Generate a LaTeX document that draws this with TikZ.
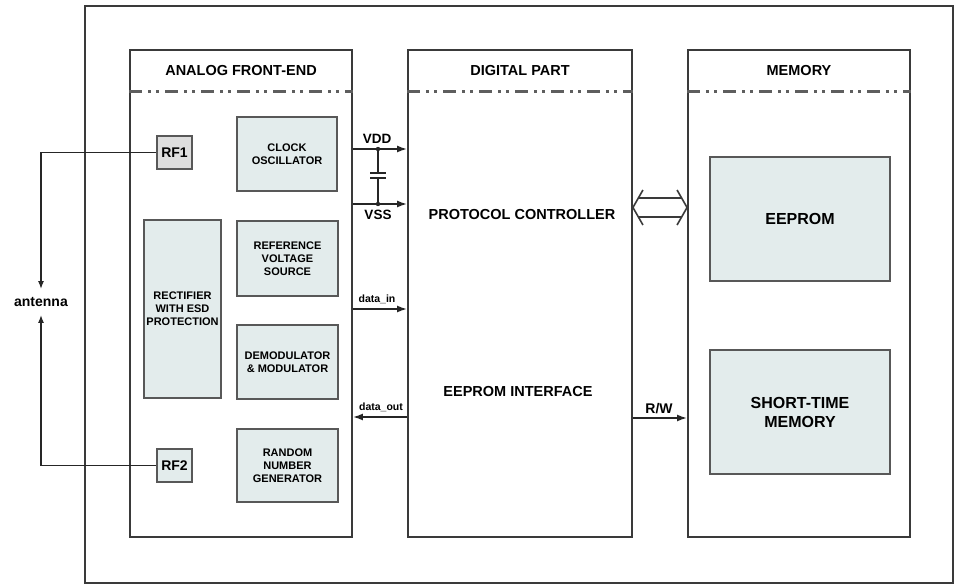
\documentclass[tikz,border=0pt]{standalone}
\usepackage{fontspec}
\setmainfont{Liberation Sans}
\usetikzlibrary{arrows.meta,calc}

\definecolor{boxfill}{HTML}{E3ECEC}
\definecolor{rffill}{HTML}{DEDEDE}
\definecolor{edge}{HTML}{3A3A3A}
\definecolor{dashgray}{HTML}{5E5E5E}

\begin{document}
\begin{tikzpicture}[x=1pt,y=-1pt,
  every node/.style={font=\bfseries},
  frame/.style={draw=edge, line width=1.9pt, inner sep=0pt},
  block/.style={draw=edge!85, line width=1.7pt, fill=boxfill, align=center,
    inner sep=0pt, font=\fontsize{11}{13}\selectfont\bfseries},
  rfbox/.style={block, font=\fontsize{14}{16}\selectfont\bfseries},
  bigblock/.style={block, font=\fontsize{16}{19}\selectfont\bfseries},
  title/.style={font=\fontsize{14.5}{16}\selectfont\bfseries},
  plain/.style={font=\fontsize{14.5}{16}\selectfont\bfseries},
  small/.style={font=\fontsize{10.5}{12}\selectfont\bfseries, inner sep=0pt},
  sepline/.style={dashgray, line width=3pt,
    dash pattern=on 13pt off 6pt on 3pt off 5pt on 3pt off 6pt},
  wire/.style={draw=black!85, line width=1.6pt},
  sig/.style={wire, -{Latex[length=10pt,width=7pt]}},
  antsig/.style={wire, -{Latex[length=8pt,width=6pt]}},
]
\useasboundingbox (0,0) rectangle (967,585);

% outer frame and the three main sections
\node[frame, minimum width=868pt, minimum height=577pt] (chip) at (519,294.5) {};
\node[frame, minimum width=222pt, minimum height=487pt] (afe) at (241,293.5) {};
\node[frame, minimum width=224pt, minimum height=487pt] (dig) at (520,293.5) {};
\node[frame, minimum width=222pt, minimum height=487pt] (mem) at (799,293.5) {};

% section titles and separators
\node[title] (afetitle) at (241,71) {ANALOG FRONT-END};
\node[title] (digtitle) at (520,71) {DIGITAL PART};
\node[title] (memtitle) at (799,71) {MEMORY};
\draw[sepline] (afe.west |- 0,92) -- (afe.east |- 0,92);
\draw[sepline] (dig.west |- 0,92) -- (dig.east |- 0,92);
\draw[sepline] (mem.west |- 0,92) -- (mem.east |- 0,92);

% analog front-end blocks
\node[rfbox, fill=rffill, minimum width=35pt, minimum height=33pt] (rf1) at (174.5,152.5) {RF1};
\node[rfbox, minimum width=35pt, minimum height=33pt] (rf2) at (174.5,465.5) {RF2};
\node[block, minimum width=100pt, minimum height=74pt] (clk) at (287,154) {CLOCK\\OSCILLATOR};
\node[block, minimum width=101pt, minimum height=75pt] (ref) at (287.5,258.5) {REFERENCE\\VOLTAGE\\SOURCE};
\node[block, minimum width=101pt, minimum height=74pt] (demod) at (287.5,362) {DEMODULATOR\\\& MODULATOR};
\node[block, minimum width=101pt, minimum height=73pt] (rng) at (287.5,465.5) {RANDOM\\NUMBER\\GENERATOR};
\node[block, minimum width=77pt, minimum height=178pt] (rect) at (182.5,309) {RECTIFIER\\WITH ESD\\PROTECTION};

% digital part
\node[plain] (proto) at (522,215) {PROTOCOL CONTROLLER};
\node[plain] (eeif) at (518,392) {EEPROM INTERFACE};

% memory blocks
\node[bigblock, minimum width=180pt, minimum height=124pt] (eeprom) at (800,219) {EEPROM};
\node[bigblock, minimum width=180pt, minimum height=124pt] (stm) at (800,412) {SHORT-TIME\\MEMORY};

% antenna connections
\node[plain, inner xsep=0pt, inner ysep=8pt, font=\fontsize{14}{16}\selectfont\bfseries] (ant) at (41,302) {antenna};
\draw[antsig] (rf1.west) -| (ant.north);
\draw[antsig] (rf2.west) -| (ant.south);

% supply lines with buffer capacitor
\coordinate (vddj) at (378,149);
\coordinate (vssj) at (378,204);
\draw[sig] (afe.east |- vddj) -- (dig.west |- vddj);
\draw[sig] (afe.east |- vssj) -- (dig.west |- vssj);
\draw[wire] (vddj) -- ($(vddj)+(0,24)$);
\draw[wire] ($(vssj)+(0,-26)$) -- (vssj);
\draw[wire] ($(vddj)+(-8,24)$) -- ($(vddj)+(8,24)$);
\draw[wire] ($(vssj)+(-8,-26)$) -- ($(vssj)+(8,-26)$);
\fill[black!85] (vddj) circle (2.2pt);
\fill[black!85] (vssj) circle (2.2pt);
\node[plain, font=\fontsize{13.5}{15}\selectfont\bfseries] (vddl) at (377,139) {VDD};
\node[plain, font=\fontsize{13.5}{15}\selectfont\bfseries] (vssl) at (378,215) {VSS};

% data lines
\coordinate (dinj) at (380,309);
\coordinate (doutj) at (380,417);
\draw[sig] (afe.east |- dinj) -- (dig.west |- dinj);
\draw[sig] (dig.west |- doutj) -- (afe.east |- doutj);
\node[small] (dinl) at (377,299) {data\_in};
\node[small] (doutl) at (381,407) {data\_out};

% bus between digital part and memory
\coordinate (busl) at (dig.east |- 0,207.5);
\coordinate (busr) at (mem.west |- 0,207.5);
\draw[wire, draw=edge] ($(busl)+(10,-17.5)$) -- (busl) -- ($(busl)+(10,17.5)$);
\draw[wire, draw=edge] ($(busr)+(-10,-17.5)$) -- (busr) -- ($(busr)+(-10,17.5)$);
\draw[wire, draw=edge] ($(busl)+(5,-9.5)$) -- ($(busr)+(-5,-9.5)$);
\draw[wire, draw=edge] ($(busl)+(5,9.5)$) -- ($(busr)+(-5,9.5)$);

% read/write line
\coordinate (rwj) at (660,418);
\draw[sig] (dig.east |- rwj) -- (mem.west |- rwj);
\node[plain, font=\fontsize{14}{16}\selectfont\bfseries] (rwl) at (659,409) {R/W};
\end{tikzpicture}
\end{document}
